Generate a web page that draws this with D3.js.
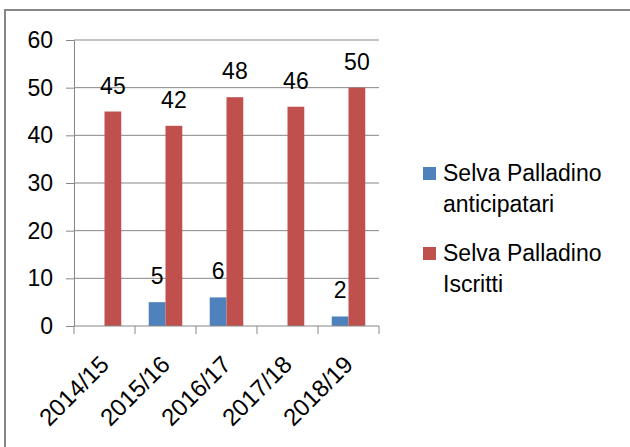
<!DOCTYPE html>
<html>
<head>
<meta charset="utf-8">
<script src="https://cdn.jsdelivr.net/npm/d3@7"></script>
<style>
  html, body { margin: 0; padding: 0; background: #fff; }
  svg { display: block; font-family: "Liberation Sans", Arial, sans-serif; }
</style>
</head>
<body>
<svg id="chart" width="630" height="447"></svg>
<script>
const categories = ["2014/15", "2015/16", "2016/17", "2017/18", "2018/19"];
const anticipatari = [0, 5, 6, 0, 2];
const iscritti = [45, 42, 48, 46, 50];
const yTicks = [0, 10, 20, 30, 40, 50, 60];

const seriesNames = ["Selva Palladino anticipatari", "Selva Palladino Iscritti"];
const legendLines = [["Selva Palladino", "anticipatari"], ["Selva Palladino", "Iscritti"]];
const colors = ["#4F81BD", "#C0504D"];
const gridColor = "#878787";

const svg = d3.select("#chart");

// outer frame (runs off the right and bottom edges)
svg.append("rect")
  .attr("x", 5).attr("y", 10)
  .attr("width", 700).attr("height", 500)
  .attr("fill", "none")
  .attr("stroke", gridColor)
  .attr("stroke-width", 2);

const plot = { left: 74, right: 379, top: 40, bottom: 326 };

const x0 = d3.scaleBand()
  .domain(categories)
  .range([plot.left, plot.right])
  .paddingInner(0.45)
  .paddingOuter(0.225);

const x1 = d3.scaleBand()
  .domain([0, 1])
  .range([0, x0.bandwidth()]);

const y = d3.scaleLinear().domain([0, 60]).range([plot.bottom, plot.top]);

// gridlines
svg.append("g")
  .selectAll("line")
  .data(yTicks.filter((d) => d > 0))
  .join("line")
  .attr("x1", plot.left).attr("x2", plot.right)
  .attr("y1", (d) => y(d)).attr("y2", (d) => y(d))
  .attr("stroke", gridColor).attr("stroke-width", 1);

// y axis
const yAxis = svg.append("g")
  .attr("transform", `translate(${plot.left},0)`)
  .call(d3.axisLeft(y).tickValues(yTicks).tickSize(8).tickPadding(13));
yAxis.select(".domain").attr("stroke", gridColor);
yAxis.selectAll(".tick line").attr("stroke", gridColor);
yAxis.selectAll(".tick text")
  .attr("font-size", 23)
  .attr("fill", "#000")
  .attr("font-family", "Liberation Sans, Arial, sans-serif");

// bars
const data = categories.map((c, i) => ({ cat: c, values: [anticipatari[i], iscritti[i]] }));

const groups = svg.append("g")
  .selectAll("g")
  .data(data)
  .join("g")
  .attr("transform", (d) => `translate(${x0(d.cat)},0)`);

groups.selectAll("rect")
  .data((d) => d.values.map((v, s) => ({ v, s })))
  .join("rect")
  .attr("x", (d) => x1(d.s))
  .attr("width", x1.bandwidth())
  .attr("y", (d) => y(d.v))
  .attr("height", (d) => y(0) - y(d.v))
  .attr("fill", (d) => colors[d.s]);

groups.selectAll("text")
  .data((d) => d.values.map((v, s) => ({ v, s })).filter((d) => d.v > 0))
  .join("text")
  .attr("x", (d) => x1(d.s) + x1.bandwidth() / 2)
  .attr("y", (d) => y(d.v) - 18)
  .attr("text-anchor", "middle")
  .attr("font-size", 23)
  .attr("fill", "#000")
  .text((d) => d.v);

// x axis
const xAxis = svg.append("g")
  .attr("transform", `translate(0,${plot.bottom})`);
xAxis.append("line")
  .attr("x1", plot.left).attr("x2", plot.right)
  .attr("stroke", gridColor);
const tickPos = categories.map((c) => x0(c) - x0.step() * x0.paddingInner() / 2)
  .concat([plot.right]);
xAxis.selectAll("line.tick")
  .data(tickPos)
  .join("line")
  .attr("class", "tick")
  .attr("x1", (d) => d).attr("x2", (d) => d)
  .attr("y1", 0).attr("y2", 8)
  .attr("stroke", gridColor);
xAxis.selectAll("text")
  .data(categories)
  .join("text")
  .attr("transform", (d) => `translate(${x0(d) + x0.bandwidth() / 2 + 6},40) rotate(-45)`)
  .attr("text-anchor", "end")
  .attr("font-size", 24)
  .attr("fill", "#000")
  .text((d) => d);

// legend
const legend = svg.append("g");
const legendItems = legend.selectAll("g")
  .data(seriesNames)
  .join("g")
  .attr("transform", (d, i) => `translate(423,${167 + i * 80})`);
legendItems.append("rect")
  .attr("width", 13).attr("height", 13)
  .attr("fill", (d, i) => colors[i]);
legendItems.append("text")
  .attr("x", 20)
  .attr("font-size", 23)
  .attr("fill", "#000")
  .selectAll("tspan")
  .data((d, i) => legendLines[i])
  .join("tspan")
  .attr("x", 20)
  .attr("y", (d, j) => 14 + j * 31)
  .text((d) => d);
</script>
</body>
</html>
